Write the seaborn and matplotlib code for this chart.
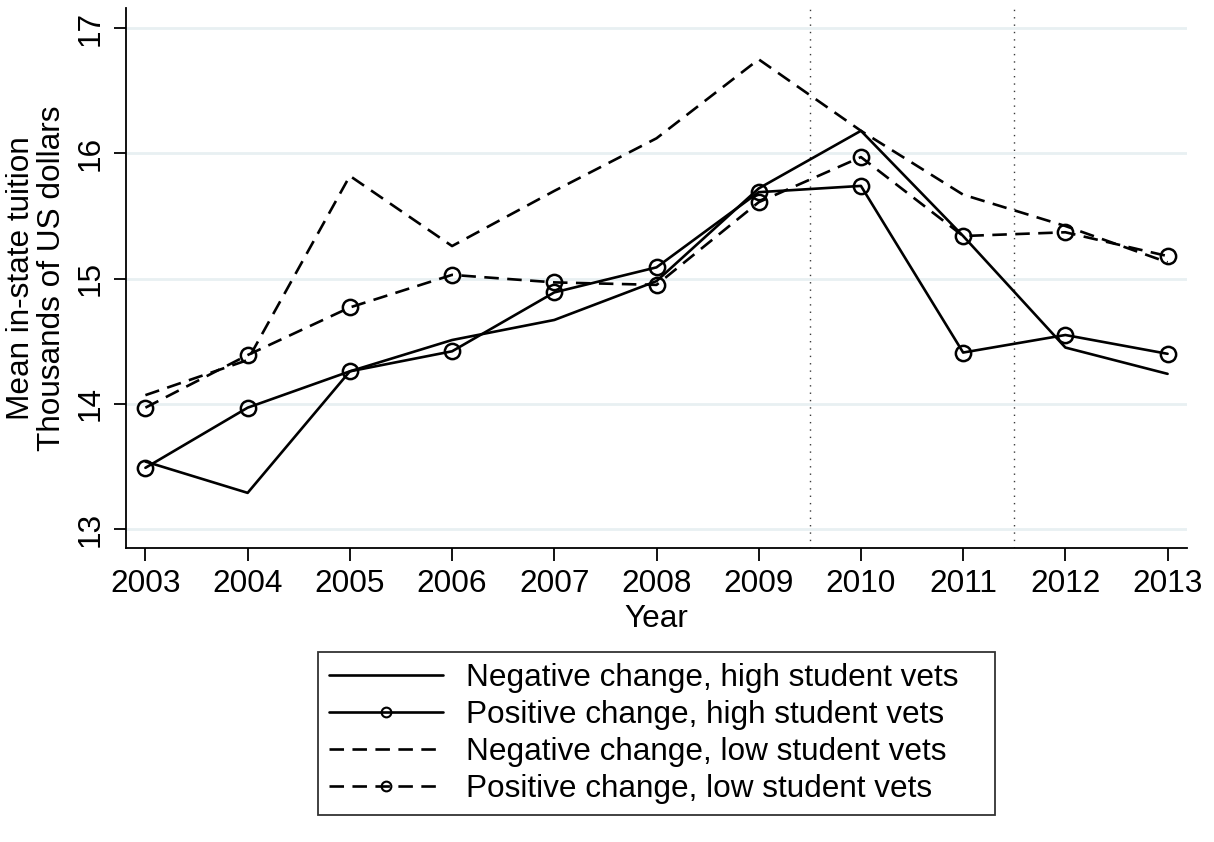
import matplotlib
matplotlib.use("Agg")
import matplotlib.pyplot as plt
import seaborn as sns
import pandas as pd
from matplotlib.lines import Line2D

sns.set_style("white")
plt.rcParams["font.family"] = ["Liberation Sans", "DejaVu Sans"]
plt.rcParams["text.color"] = "black"
plt.rcParams["axes.labelcolor"] = "black"
plt.rcParams["xtick.color"] = "black"
plt.rcParams["ytick.color"] = "black"

years = [2003, 2004, 2005, 2006, 2007, 2008, 2009, 2010, 2011, 2012, 2013]
neg_high = [13.54, 13.29, 14.26, 14.51, 14.67, 14.98, 15.72, 16.18, 15.34, 14.45, 14.24]
pos_high = [13.49, 13.97, 14.26, 14.42, 14.89, 15.09, 15.69, 15.74, 14.41, 14.55, 14.40]
neg_low = [14.07, 14.35, 15.82, 15.26, 15.70, 16.12, 16.75, 16.18, 15.67, 15.42, 15.13]
pos_low = [13.97, 14.39, 14.77, 15.03, 14.97, 14.95, 15.61, 15.97, 15.34, 15.37, 15.18]

series_names = [
    "Negative change, high student vets",
    "Positive change, high student vets",
    "Negative change, low student vets",
    "Positive change, low student vets",
]
series_values = [neg_high, pos_high, neg_low, pos_low]
y_ticks = [13, 14, 15, 16, 17]
cutoff_years = [2009.5, 2011.5]

df = pd.concat(
    [pd.DataFrame({"Year": years, "Tuition": v, "Group": n})
     for n, v in zip(series_names, series_values)],
    ignore_index=True,
)

dash_pat = (5.5, 3.2)
styles = {
    series_names[0]: dict(linestyle="-", marker=None),
    series_names[1]: dict(linestyle="-", marker="o"),
    series_names[2]: dict(linestyle=(0, dash_pat), marker=None),
    series_names[3]: dict(linestyle=(0, dash_pat), marker="o"),
}

fig = plt.figure(figsize=(12.14, 8.42), dpi=100)
ax = fig.add_axes([126 / 1214, 1 - 548 / 842, (1187 - 126) / 1214, (548 - 8) / 842])

# horizontal grid at the y ticks
for yt in y_ticks:
    ax.axhline(yt, color="#e8f0f2", lw=2, zorder=0)

for yr in cutoff_years:
    ax.axvline(yr, color="#3a3a3a", lw=1.0, linestyle=(0, (1, 4.3)), zorder=1)

for name in series_names:
    st = styles[name]
    sub = df[df["Group"] == name]
    sns.lineplot(
        data=sub, x="Year", y="Tuition", ax=ax, color="black", lw=1.9,
        linestyle=st["linestyle"], marker=st["marker"], markersize=11,
        markerfacecolor="none", markeredgecolor="black", markeredgewidth=1.8,
        legend=False, zorder=3,
    )

ax.set_xlim(2002.81, 2013.19)
ax.set_ylim(12.85, 17.16)
ax.set_xticks(years)
ax.set_yticks(y_ticks)
ax.set_xticklabels([str(y) for y in years], fontsize=22.7)
ax.set_yticklabels([str(y) for y in y_ticks], fontsize=22.7, rotation=90, va="center")
ax.tick_params(axis="both", direction="out", length=9, width=1.3, color="black",
               left=True, bottom=True, pad=6)
for side in ["top", "right"]:
    ax.spines[side].set_visible(False)
for side in ["left", "bottom"]:
    ax.spines[side].set_color("black")
    ax.spines[side].set_linewidth(1.3)

ax.set_xlabel("Year", fontsize=22.7, labelpad=4)
ax.set_ylabel("Mean in-state tuition\nThousands of US dollars", fontsize=22.7,
              linespacing=1.05, labelpad=6)

handles = []
for name in series_names:
    st = styles[name]
    handles.append(Line2D([0], [0], color="black", lw=1.9, linestyle=st["linestyle"],
                          marker=st["marker"], markersize=7, markerfacecolor="none",
                          markeredgewidth=1.5))
leg = fig.legend(handles, series_names, loc="upper left", mode="expand",
                 bbox_to_anchor=(318 / 1214, 1 - 817 / 842, 677 / 1214, 165 / 842),
                 fontsize=22.7, frameon=True, fancybox=False, handlelength=3.6,
                 handletextpad=0.75, labelspacing=0.22, borderpad=0.35,
                 borderaxespad=0)
leg.get_frame().set_edgecolor("black")
leg.get_frame().set_linewidth(1.3)

fig.savefig("out.png", dpi=100, facecolor="white")
